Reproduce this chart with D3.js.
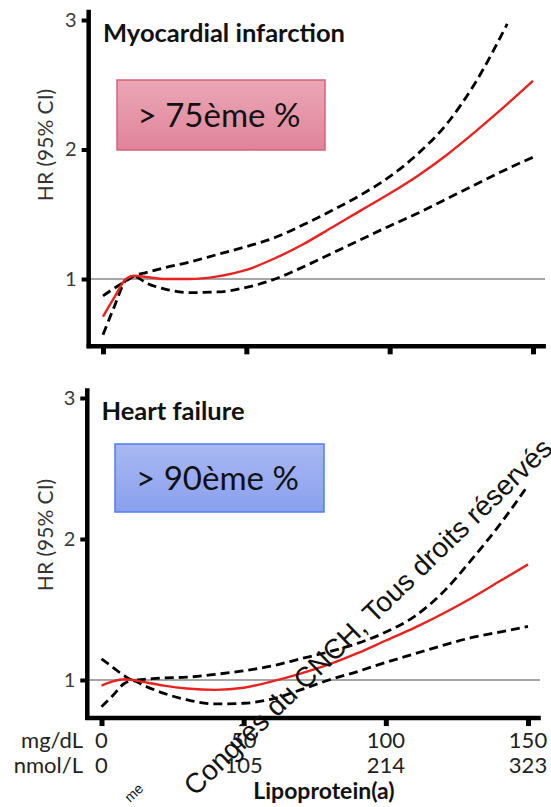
<!DOCTYPE html>
<html lang="fr">
<head>
<meta charset="UTF-8">
<title>Lp(a) HR</title>
<style>
  body { margin: 0; background: #fff; }
  svg { display: block; font-family: Lato, "Open Sans", sans-serif; }
  .axis-line { stroke: #000; stroke-width: 4.5; fill: none; }
  .ref { stroke: #a6a6a6; stroke-width: 2; }
  .fit { fill: none; stroke: #e8231f; stroke-width: 2.4; }
  .ci { fill: none; stroke: #000; stroke-width: 2.8; stroke-dasharray: 9 5; }
</style>
</head>
<body>
<div id="chart"></div>
<script src="https://d3js.org/d3.v7.min.js"></script>
<script>
// Lp(a), mg/dL
const miX  = [0, 4, 8, 11, 15, 22, 30, 40, 50, 60, 70, 80, 90, 100, 110, 120, 130, 141, 150];
const miFit   = [0.71, 0.86, 1.00, 1.025, 1.015, 1.00, 1.00, 1.02, 1.07, 1.16, 1.27, 1.40, 1.53, 1.66, 1.80, 1.96, 2.14, 2.35, 2.53];
const miUpper = [0.87, 0.93, 0.985, 1.025, 1.05, 1.09, 1.13, 1.19, 1.25, 1.32, 1.42, 1.53, 1.65, 1.79, 1.97, 2.20, 2.52, 2.97, null];
const miLower = [0.57, 0.79, 0.99, 1.02, 0.97, 0.92, 0.895, 0.90, 0.935, 1.00, 1.095, 1.20, 1.305, 1.41, 1.51, 1.62, 1.73, 1.85, 1.94];

const hfX  = [0, 4, 8, 11, 15, 22, 30, 40, 50, 60, 70, 80, 90, 100, 110, 120, 130, 140, 150];
const hfFit   = [0.96, 0.99, 1.005, 1.0, 0.985, 0.96, 0.94, 0.93, 0.945, 0.99, 1.045, 1.11, 1.19, 1.28, 1.37, 1.47, 1.58, 1.70, 1.82];
const hfUpper = [1.15, 1.09, 1.03, 1.0, 1.005, 1.015, 1.02, 1.04, 1.065, 1.10, 1.15, 1.20, 1.26, 1.34, 1.45, 1.62, 1.85, 2.10, 2.38];
const hfLower = [0.81, 0.89, 0.975, 0.995, 0.96, 0.905, 0.86, 0.83, 0.835, 0.865, 0.93, 1.0, 1.06, 1.125, 1.185, 1.245, 1.30, 1.34, 1.38];

const yTicks = [1, 2, 3];
const xTicks = [0, 50, 100, 150];
const mgLabels = ["0", "50", "100", "150"];
const nmolLabels = ["0", "105", "214", "323"];

const W = 551, H = 807;
const svg = d3.select("#chart").append("svg").attr("width", W).attr("height", H);

const panels = [
  { title: "Myocardial infarction", titleLen: 242, box: "> 75ème %", boxTop: "#eba7b7", boxBot: "#e0849a", boxStroke: "#d9607c",
    x: miX, fit: miFit, upper: miUpper, lower: miLower,
    xr: [103, 533], yr: [279, 20], yMin: 0.48, yMax: 3.08, xMin: -5, xMax: 154.5, refEnd: 545,
    boxRect: [117, 80, 208, 70], titleY: 42, labelY: 145, labels: false },
  { title: "Heart failure", titleLen: 143, box: "> 90ème %", boxTop: "#a9b8f2", boxBot: "#8aa0ee", boxStroke: "#4f7ff0",
    x: hfX, fit: hfFit, upper: hfUpper, lower: hfLower,
    xr: [101.5, 528], yr: [680, 398], yMin: 0.73, yMax: 3.07, xMin: -5, xMax: 154.5, refEnd: 540,
    boxRect: [115, 444, 209, 68], titleY: 420, labelY: 535, labels: true }
];

const defs = svg.append("defs");

panels.forEach((p, i) => {
  const x = d3.scaleLinear().domain([0, 150]).range(p.xr);
  const y = d3.scaleLinear().domain([1, 3]).range(p.yr);
  const g = svg.append("g");

  // reference line at HR = 1
  g.append("line").attr("class", "ref")
    .attr("x1", x(p.xMin)).attr("x2", p.refEnd)
    .attr("y1", y(1)).attr("y2", y(1));

  // y axis
  const yAxis = d3.axisLeft(y).tickValues(yTicks).tickFormat(d3.format("d"))
    .tickSize(7).tickPadding(5).tickSizeOuter(0);
  const ya = g.append("g").attr("transform", `translate(${x(p.xMin)},0)`).call(yAxis);
  ya.select(".domain").remove();
  ya.selectAll(".tick line").attr("stroke", "#000").attr("stroke-width", 4);
  ya.selectAll(".tick text").attr("font-size", 20).attr("fill", "#3a3a3a").attr("font-family", "Lato, sans-serif");
  g.append("line").attr("class", "axis-line")
    .attr("x1", x(p.xMin)).attr("x2", x(p.xMin))
    .attr("y1", y(p.yMin) + 2).attr("y2", y(p.yMax));

  // x axis
  const xAxis = d3.axisBottom(x).tickValues(xTicks).tickSize(8).tickFormat("").tickSizeOuter(0);
  const xa = g.append("g").attr("transform", `translate(0,${y(p.yMin)})`).call(xAxis);
  xa.select(".domain").remove();
  xa.selectAll(".tick line").attr("stroke", "#000").attr("stroke-width", 5);
  g.append("line").attr("class", "axis-line")
    .attr("x1", x(p.xMin) - 2).attr("x2", x(p.xMax))
    .attr("y1", y(p.yMin)).attr("y2", y(p.yMin));

  // y label
  g.append("text")
    .attr("transform", `translate(53,${p.labelY}) rotate(-90)`)
    .attr("text-anchor", "middle")
    .attr("font-size", 21).attr("fill", "#333")
    .text("HR (95% CI)");

  // title
  g.append("text").attr("x", x(0)).attr("y", p.titleY)
    .attr("font-size", 24).attr("font-weight", 700).attr("fill", "#111")
    .attr("textLength", p.titleLen).attr("lengthAdjust", "spacingAndGlyphs")
    .text(p.title);

  // curves
  const pts = (vals) => p.x.map((d, k) => [d, vals[k]]).filter(d => d[1] != null);
  const line = d3.line().x(d => x(d[0])).y(d => y(d[1])).curve(d3.curveMonotoneX);
  g.append("path").attr("class", "ci").attr("d", line(pts(p.upper)));
  g.append("path").attr("class", "ci").attr("d", line(pts(p.lower)));
  g.append("path").attr("class", "fit").attr("d", line(pts(p.fit)));

  // percentile box
  const gid = "grad" + i;
  const grad = defs.append("linearGradient").attr("id", gid).attr("x1", 0).attr("x2", 0).attr("y1", 0).attr("y2", 1);
  grad.append("stop").attr("offset", "0%").attr("stop-color", p.boxTop);
  grad.append("stop").attr("offset", "100%").attr("stop-color", p.boxBot);
  const [bx, by, bw, bh] = p.boxRect;
  g.append("rect").attr("x", bx).attr("y", by).attr("width", bw).attr("height", bh)
    .attr("fill", `url(#${gid})`).attr("stroke", p.boxStroke).attr("stroke-width", 1.5);
  g.append("text").attr("x", bx + bw / 2 - 2).attr("y", by + bh / 2 + 12)
    .attr("text-anchor", "middle").attr("font-size", 33).attr("fill", "#111")
    .text(p.box);

  if (p.labels) {
    const rows = [[mgLabels, "mg/dL", 748], [nmolLabels, "nmol/L", 773]];
    rows.forEach(([labs, unit, yy]) => {
      g.append("text").attr("x", 83).attr("y", yy).attr("text-anchor", "end")
        .attr("font-size", 22).attr("fill", "#222").text(unit);
      g.selectAll(null).data(xTicks).enter().append("text")
        .attr("x", d => x(d)).attr("y", yy).attr("text-anchor", "middle")
        .attr("font-size", 22).attr("fill", "#222")
        .text((d, k) => labs[k]);
    });
    g.append("text").attr("x", 324).attr("y", 799).attr("text-anchor", "middle")
      .attr("font-size", 23).attr("font-weight", 700).attr("fill", "#111")
      .text("Lipoprotein(a)");
  }
});

// overlay watermark
const ov = svg.append("g").attr("font-family", "'Liberation Sans', Arial, sans-serif").attr("fill", "#111");
ov.append("text").attr("transform", "translate(130,803) rotate(-43)").attr("font-size", 14).text("me");
ov.append("text").attr("transform", "translate(195,797) rotate(-44)").attr("font-size", 28)
  .text("Congrès du CNCH, Tous droits réservés");
</script>
</body>
</html>
